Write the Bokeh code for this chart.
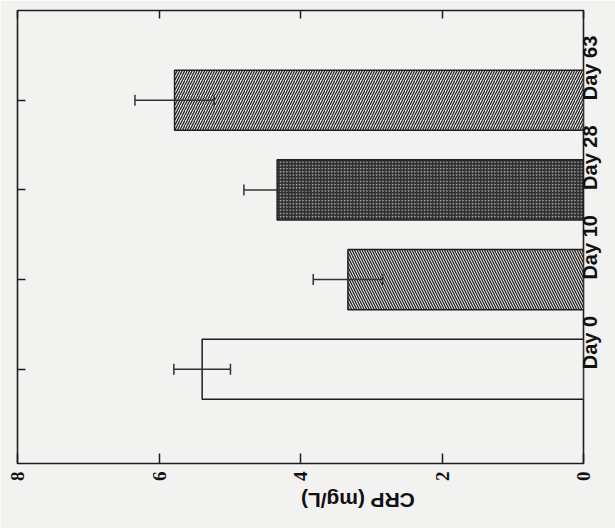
import math
from bokeh.plotting import figure
from bokeh.models import Range1d, LinearAxis, FixedTicker, ColumnDataSource, Whisker, TeeHead
from bokeh.core.properties import field
from bokeh.embed import file_html
from bokeh.resources import INLINE

# data
days = ["Day 0", "Day 10", "Day 28", "Day 63"]
crp = [5.39, 3.33, 4.33, 5.78]
sem = [0.40, 0.49, 0.47, 0.56]
value_ticks = [0, 2, 4, 6, 8]

# styles
fills = ["#f3f3f1", "#f3f3f1", "#2e2e2e", "#f3f3f1"]
hatches = [" ", "left_diagonal_line", "dot", "right_diagonal_line"]
hatch_colors = ["#222222", "#222222", "#bdbdbd", "#222222"]
hatch_scales = [5, 5, 3.2, 5]
hatch_weights = [1.3, 1.3, 1.0, 1.3]

pos = list(range(1, len(days) + 1))
src = ColumnDataSource(dict(
    y=pos, crp=crp, lo=[c - s for c, s in zip(crp, sem)], hi=[c + s for c, s in zip(crp, sem)],
    fill=fills, hpat=hatches, hcol=hatch_colors, hsc=hatch_scales, hw=hatch_weights,
))

PAPER = "#f2f2f0"
p = figure(width=615, height=528, output_backend="svg", toolbar_location=None,
           x_range=Range1d(8, 0), y_range=Range1d(-0.05, 5.0),
           x_axis_location=None, y_axis_location=None,
           min_border_left=17, min_border_right=31, min_border_top=10, min_border_bottom=65)
p.background_fill_color = PAPER
p.border_fill_color = PAPER
p.outline_line_color = "#1e1e1e"
p.outline_line_width = 1.6
p.grid.visible = False

p.hbar(y="y", right="crp", left=0, height=0.67, source=src,
       fill_color=field("fill"), line_color="#1e1e1e", line_width=1.5,
       hatch_pattern=field("hpat"), hatch_color=field("hcol"),
       hatch_scale=field("hsc"), hatch_weight=field("hw"))

w = Whisker(source=src, base="y", lower="lo", upper="hi", dimension="width",
            line_color="#333333", line_width=1.5, level="overlay",
            lower_head=TeeHead(size=11, line_color="#333333", line_width=1.5),
            upper_head=TeeHead(size=11, line_color="#333333", line_width=1.5))
p.add_layout(w)

def style_ticks(ax):
    ax.axis_line_color = None
    ax.major_tick_line_color = "#1e1e1e"
    ax.major_tick_line_width = 1.5
    ax.minor_tick_line_color = None

# bottom value axis
bx = LinearAxis(ticker=FixedTicker(ticks=value_ticks))
style_ticks(bx)
bx.major_tick_in = 10
bx.major_tick_out = 0
bx.major_label_orientation = math.pi / 2
bx.major_label_standoff = 8
bx.major_label_text_font = "Liberation Serif"
bx.major_label_text_font_style = "bold"
bx.major_label_text_font_size = "19px"
bx.major_label_text_color = "#111111"
bx.axis_label = "CRP (mg/L)"
bx.axis_label_orientation = math.pi
bx.axis_label_standoff = 16
bx.axis_label_text_font = "Liberation Sans"
bx.axis_label_text_font_style = "bold"
bx.axis_label_text_font_size = "21px"
bx.axis_label_text_color = "#111111"
p.add_layout(bx, "below")

# top mirror ticks
tx = LinearAxis(ticker=FixedTicker(ticks=value_ticks),
                major_label_overrides={t: "" for t in value_ticks})
style_ticks(tx)
tx.major_tick_in = 8
tx.major_tick_out = 0
tx.major_label_text_font_size = "1px"
tx.major_label_standoff = 0
p.add_layout(tx, "above")

# left category ticks
lx = LinearAxis(ticker=FixedTicker(ticks=pos),
                major_label_overrides={i: "" for i in pos})
style_ticks(lx)
lx.major_tick_in = 8
lx.major_tick_out = 0
lx.major_label_text_font_size = "1px"
lx.major_label_standoff = 0
p.add_layout(lx, "left")

# right category labels
rx = LinearAxis(ticker=FixedTicker(ticks=pos),
                major_label_overrides={i: d for i, d in zip(pos, days)})
rx.axis_line_color = None
rx.major_tick_line_color = None
rx.minor_tick_line_color = None
rx.major_label_orientation = math.pi / 2
rx.major_label_standoff = 1
rx.major_label_text_font = "Liberation Sans"
rx.major_label_text_font_style = "bold"
rx.major_label_text_font_size = "20px"
rx.major_label_text_color = "#111111"
p.add_layout(rx, "right")

open("out.html", "w").write(file_html(p, INLINE))
